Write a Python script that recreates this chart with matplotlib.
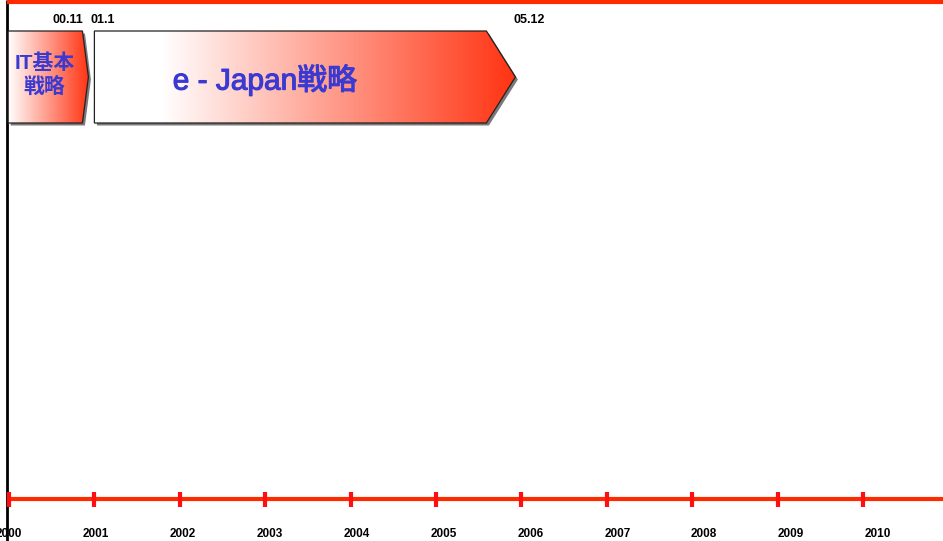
import numpy as np
import matplotlib
matplotlib.use("Agg")
from matplotlib import pyplot as plt
from matplotlib.patches import Polygon
from matplotlib import patheffects as pe

# timeline data (decimal years)
years = [2000, 2001, 2002, 2003, 2004, 2005, 2006, 2007, 2008, 2009, 2010]
year_labels = [str(y) for y in years]

phase_names = ["IT基本\n戦略", "e - Japan戦略"]
phase_start = [1999.99, 2001.0]
phase_end = [2000.93, 2005.93]
phase_notch = [0.07, 0.34]          # length of the arrow point, in years
phase_fontsize = [15, 21.5]
phase_weight = ["bold", "normal"]
phase_white = [0.0, 0.16]           # share of the bar that stays white

date_labels = ["00.11", "01.1", "05.12"]
date_x = [2000.87, 2000.96, 2006.09]
date_ha = ["right", "left", "center"]

RED = "#ff2a00"
BLUE = "#3a3ad2"
FONT = ["Liberation Sans", "Noto Sans CJK JP", "DejaVu Sans"]

PX_PER_YEAR = 85.4
X0 = 2000 - 9 / PX_PER_YEAR
X1 = 2000 + 934 / PX_PER_YEAR

fig = plt.figure(figsize=(9.43, 5.41), dpi=100)
ax = fig.add_axes([0, 0, 1, 1])
ax.set_xlim(X0, X1)
ax.set_ylim(541, 0)
ax.axis("off")

px = 1 / PX_PER_YEAR  # one pixel in years

# frame lines
ax.plot([X0 + 7 * px, X0 + 7 * px], [0, 541], color="black", lw=2, solid_capstyle="butt")
ax.plot([X0 + 7 * px, X1], [2, 2], color=RED, lw=3, solid_capstyle="butt")

# time axis
ax.plot([years[0], X1], [499, 499], color=RED, lw=3, solid_capstyle="butt", zorder=2)
for y in years:
    ax.plot([y, y], [492, 507], color="#ff1010", lw=3, solid_capstyle="butt", zorder=3)
for i, (y, lab) in enumerate(zip(years, year_labels)):
    ax.text(y + 0.0175 * i, 534, lab, ha="center", va="center", fontsize=8.5,
            fontweight="bold", family=FONT, color="black")

# date labels above the bars
for lab, x, ha in zip(date_labels, date_x, date_ha):
    ax.text(x, 20, lab, ha=ha, va="center", fontsize=9, fontweight="bold",
            family=FONT, color="black")

# arrow bars with gradient
top, bot = 31, 123
for name, s, e, n, fs, fw, w0 in zip(phase_names, phase_start, phase_end, phase_notch,
                                       phase_fontsize, phase_weight, phase_white):
    pts = [(s, top), (e - n, top), (e, (top + bot) / 2), (e - n, bot), (s, bot)]
    shadow = Polygon([(x + 2.5 * px, y + 2.5) for x, y in pts], closed=True,
                     facecolor="#7a7a7a", edgecolor="none", zorder=4)
    ax.add_patch(shadow)
    body = Polygon(pts, closed=True, facecolor="none", edgecolor="none", zorder=5)
    ax.add_patch(body)
    t = np.linspace(0, 1, 400)
    f = np.clip((t - w0) / (1 - w0), 0, 1)
    end_col = np.array([1.0, 0.2, 0.07])
    col = np.ones((1, 400, 3)) * (1 - f)[None, :, None] + end_col[None, None, :] * f[None, :, None]
    im = ax.imshow(col, extent=[s, e, bot, top], aspect="auto", zorder=5, interpolation="bilinear")
    im.set_clip_path(body)
    outline = Polygon(pts, closed=True, facecolor="none", edgecolor="#222222", lw=0.9, zorder=6)
    ax.add_patch(outline)
    if fs > 16:
        cx = s + 0.405 * (e - s)
        cy = (top + bot) / 2 + 3
        fx = [pe.withStroke(linewidth=0.8, foreground=BLUE)]
    else:
        cx = s + 0.45 * (e - s)
        cy = (top + bot) / 2 - 2
        fx = []
    ax.text(cx, cy, name, ha="center", va="center", fontsize=fs,
            fontweight=fw, family=FONT, color=BLUE, linespacing=1.2, zorder=7,
            path_effects=fx)

ax.set_xlim(X0, X1)
ax.set_ylim(541, 0)
fig.savefig("out.png", dpi=100)
